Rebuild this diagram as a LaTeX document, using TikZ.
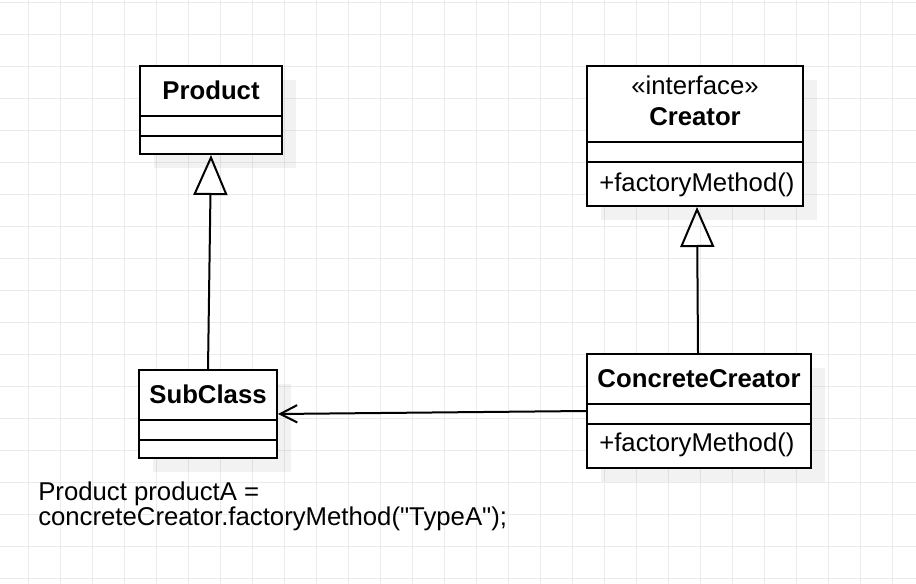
\documentclass[tikz,border=0pt]{standalone}
\usepackage{fontspec}
\setmainfont{Liberation Sans}
\newfontfamily\codefont{Liberation Sans}
\usetikzlibrary{arrows.meta,calc}
\definecolor{gridc}{HTML}{EBEBEB}
\begin{document}
\begin{tikzpicture}[x=0.75pt,y=-0.75pt,
  cls/.style={draw=black, line width=1.5pt, fill=white, rectangle, inner sep=0pt},
  sep/.style={draw=black, line width=1.5pt},
  shadowbox/.style={fill=black, fill opacity=0.05, draw=none},
  lbl/.style={font=\fontsize{19.3}{23}\selectfont, inner sep=0pt, anchor=base},
  lblw/.style={lbl, anchor=base west},
  gridline/.style={draw=gridc, line width=0.75pt},
  conn/.style={draw=black, line width=1.5pt},
  inherit/.style={conn, -{Triangle[open, length=30pt, width=25.5pt, line width=1.5pt]}},
  depend/.style={conn, -{Straight Barb[length=12.75pt, width=13pt, line width=1.5pt]}}
]
\useasboundingbox (0,0) rectangle (916,584);
\fill[white] (0,0) rectangle (916,584);
% grid
\foreach \i in {0,...,27} \draw[gridline] (28.5+32*\i,0) -- (28.5+32*\i,584);
\foreach \j in {0,...,18} \draw[gridline] (0,2.5+32*\j) -- (916,2.5+32*\j);
% shadows
\fill[shadowbox] (154,80) rectangle (296,168);
\fill[shadowbox] (153,384) rectangle (291,472);
\fill[shadowbox] (601,80) rectangle (817,220);
\fill[shadowbox] (601,368) rectangle (825,482);
% class boxes
\node[cls, minimum width=106.5pt, minimum height=66pt] (product) at (211,110) {};
\node[cls, minimum width=103.5pt, minimum height=66pt] (subclass) at (208,414) {};
\node[cls, minimum width=162pt, minimum height=105pt] (creator) at (695,136) {};
\node[cls, minimum width=168pt, minimum height=85.5pt] (concrete) at (699,411) {};
% separators
\draw[sep] (product.west |- 0,116) -- (product.east |- 0,116);
\draw[sep] (product.west |- 0,136) -- (product.east |- 0,136);
\draw[sep] (subclass.west |- 0,420) -- (subclass.east |- 0,420);
\draw[sep] (subclass.west |- 0,440) -- (subclass.east |- 0,440);
\draw[sep] (creator.west |- 0,142) -- (creator.east |- 0,142);
\draw[sep] (creator.west |- 0,162) -- (creator.east |- 0,162);
\draw[sep] (concrete.west |- 0,403.5) -- (concrete.east |- 0,403.5);
\draw[sep] (concrete.west |- 0,424) -- (concrete.east |- 0,424);
% texts
\node[lbl] (tproduct) at (211,100) {\textbf{Product}};
\node[lbl] (tsubclass) at (208,403.3) {\textbf{SubClass}};
\node[lbl] (tinterface) at (695,95) {«interface»};
\node[lbl] (tcreator) at (695,125.5) {\textbf{Creator}};
\node[lblw] (tcm) at (599,191.5) {+factoryMethod()};
\node[lbl] (tconcrete) at (699,387.7) {\textbf{ConcreteCreator}};
\node[lblw] (tccm) at (599,451.7) {+factoryMethod()};
\node[lblw] (code1) at (38,500) {\codefont Product productA =};
\node[lblw] (code2) at (38,525) {\codefont concreteCreator.factoryMethod("TypeA");};
% connectors
\draw[inherit] (subclass.north) -- (product.south);
\draw[inherit] ($(concrete.north)+(-1,0)$) -- ($(creator.south)+(2,0)$);
\draw[depend] (concrete.west) -- (subclass.east);
\end{tikzpicture}
\end{document}
